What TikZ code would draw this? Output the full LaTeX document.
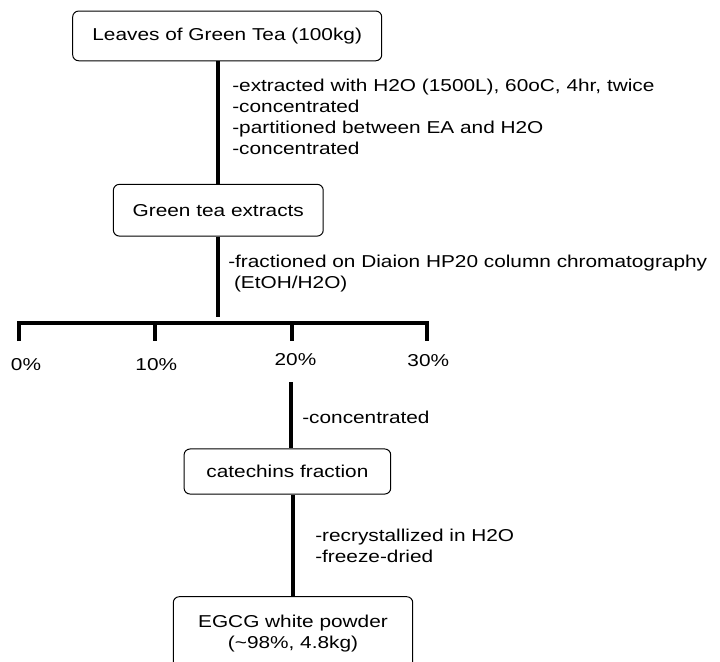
\documentclass[tikz,border=0pt]{standalone}
\usepackage{fontspec}
\setmainfont{Liberation Sans}[FakeStretch=1.21]
\newcommand{\stepfont}{\fontsize{12.9}{15.75}\selectfont}
\begin{document}
\begin{tikzpicture}[x=0.75pt,y=0.75pt,yscale=-1,xscale=1,
    box/.style={draw,rounded corners=4.5pt,line width=0.75pt,inner sep=0.75pt,align=center,font=\stepfont},
    link/.style={line width=3pt},
    notes/.style={anchor=west,inner sep=0pt,align=left,font=\stepfont},
    pct/.style={inner sep=0.75pt,font=\stepfont}]
    \useasboundingbox (0,0) rectangle (720,661);

    %Rounded Rect [id:leaves] 
    \node[box,minimum width=231.8pt,minimum height=37.3pt] (leaves) at (227.2,35.9) {Leaves of Green Tea (100kg)};
    %Rounded Rect [id:extracts] 
    \node[box,minimum width=157.4pt,minimum height=38.8pt] (extracts) at (218.3,210.2) {Green tea extracts};
    %Rounded Rect [id:catechins] 
    \node[box,minimum width=155pt,minimum height=33.8pt] (catechins) at (287.4,471.5) {catechins fraction};
    %Rounded Rect [id:egcg] 
    \node[box,minimum width=179.6pt,minimum height=55.5pt] (egcg) at (293,633.7) {EGCG white powder\\(\textasciitilde 98\%, 4.8kg)};

    %Straight Lines [id:extraction] 
    \draw[link] (extracts.north) -- (extracts.north |- leaves.south);
    %Straight Lines [id:column] 
    \coordinate (split) at (218.3,316.7);
    \draw[link] (extracts.south) -- (split);

    %Straight Lines [id:fractions] 
    \foreach \n/\x in {0/19.3,1/154.7,2/292,3/426.7} {
        \coordinate (f\n) at (\x,322.7);
        \coordinate (t\n) at (\x,341);
    }
    \draw[link] (t0) -- (f0) -- (f3) -- (t3);
    \draw[link] (f1) -- (t1);
    \draw[link] (f2) -- (t2);

    % Text Node
    \node[pct] (p0) at (26,365) {0\%};
    % Text Node
    \node[pct] (p10) at (156.3,365) {10\%};
    % Text Node
    \node[pct] (p20) at (295.5,359.3) {20\%};
    % Text Node
    \node[pct] (p30) at (428.3,361) {30\%};

    %Straight Lines [id:concentration] 
    \coordinate (c20) at (291,382);
    \draw[link] (c20) -- (c20 |- catechins.north);
    %Straight Lines [id:recrystal] 
    \draw[link] (egcg.north) -- (egcg.north |- catechins.south);

    % Text Node
    \node[notes] (note1) at (232,117.3) {-extracted with H2O (1500L), 60oC, 4hr, twice\\-concentrated\\-partitioned between EA and H2O\\-concentrated};
    % Text Node
    \node[notes] (note2) at (228,273.8) {-fractioned on Diaion HP20 column chromatography\\\ (EtOH/H2O)};
    % Text Node
    \node[notes] (note3) at (302,417.3) {-concentrated};
    % Text Node
    \node[notes] (note4) at (315,545.5) {-recrystallized in H2O\\-freeze-dried};
\end{tikzpicture}
\end{document}
